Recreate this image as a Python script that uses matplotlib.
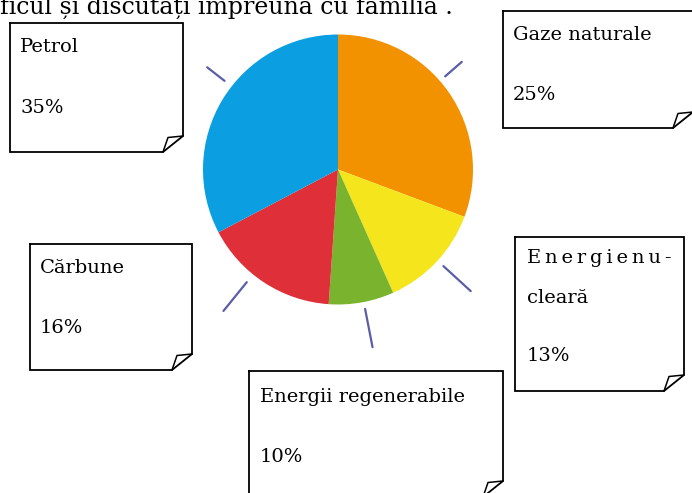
import matplotlib.pyplot as plt
import numpy as np

# valori citite din desen (unghiurile feliilor), in sensul acelor de ceas de sus
surse = ['Gaze naturale', 'Energie nucleară', 'Energii regenerabile', 'Cărbune', 'Petrol']
felii = [30.7, 12.6, 7.8, 16.2, 32.7]
culori = ['#f39200', '#f4e51c', '#7ab42e', '#df2f39', '#0b9ee0']

# etichetele din casete
procente = ['25%', '13%', '10%', '16%', '35%']
nume_casete = ['Gaze naturale', 'E\u2009n\u2009e\u2009r\u2009g\u2009i\u2009e\u2009n\u2009u\u2009-',
               'Energii regenerabile', 'Cărbune', 'Petrol']

W, H = 692, 493
cx, cy, raza = 338, 169.5, 135

fig = plt.figure(figsize=(W / 100, H / 100), dpi=100)
ax = fig.add_axes([0, 0, 1, 1])

# y inversat -> counterclock=True arata in sensul acelor de ceas
ax.pie(felii, colors=culori, startangle=-90, counterclock=True,
       center=(cx, cy), radius=raza, wedgeprops=dict(linewidth=0))

ax.set_xlim(0, W)
ax.set_ylim(H, 0)
ax.set_aspect('auto')
ax.axis('off')

# liniutele din jurul cercului
liniute = [(142, 144, 166), (41, 142, 164), (-42.5, 143, 180), (-79, 142, 181), (-129, 145, 182)]
for unghi, r1, r2 in liniute:
    a = np.radians(unghi)
    ax.plot([cx + r1 * np.cos(a), cx + r2 * np.cos(a)],
            [cy - r1 * np.sin(a), cy - r2 * np.sin(a)],
            color='#5b5ea6', lw=1.6, solid_capstyle='round')

def caseta(st, sus, dr, jos, fw=20, fh=16):
    contur = [(st, sus), (dr, sus), (dr, jos - fh), (dr - fw, jos), (st, jos), (st, sus)]
    xs, ys = zip(*contur)
    ax.fill(xs, ys, color='white', zorder=3)
    ax.plot(xs, ys, color='black', lw=1.3, zorder=4, solid_joinstyle='miter')
    # coltul indoit
    ax.plot([dr, dr - fw + 5, dr - fw], [jos - fh, jos - fh + 1.5, jos],
            color='black', lw=1.1, zorder=4)

font = dict(family='DejaVu Serif', fontsize=14, color='black', va='center', ha='left', zorder=5)

# Petrol
caseta(10, 23, 183, 152)
ax.text(20, 47, nume_casete[4], **font)
ax.text(20, 108, procente[4], **font)

# Gaze naturale
caseta(503, 11, 693, 128)
ax.text(513, 35, nume_casete[0], **font)
ax.text(513, 95, procente[0], **font)

# Energie nucleara
caseta(515, 237, 684, 391)
ax.text(527, 258, nume_casete[1], **font)
ax.text(527, 298, 'cleară', **font)
ax.text(527, 356, procente[1], **font)

# Energii regenerabile
caseta(249, 371, 503, 497)
ax.text(260, 397, nume_casete[2], **font)
ax.text(260, 457, procente[2], **font)

# Carbune
caseta(30, 244, 192, 370)
ax.text(40, 268, nume_casete[3], **font)
ax.text(40, 328, procente[3], **font)

# textul taiat de sus
ax.text(0, 14, 'ficul și discutați împreună cu familia .', family='DejaVu Serif',
        fontsize=17, va='baseline', ha='left', color='black', zorder=5)

plt.savefig('out.png', dpi=100)
plt.close()
